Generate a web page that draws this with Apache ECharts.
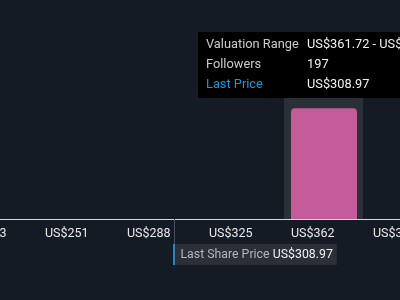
<!DOCTYPE html>
<html>
<head>
<meta charset="utf-8">
<script src="https://cdn.jsdelivr.net/npm/echarts@6/dist/echarts.min.js"></script>
<style>
html,body{margin:0;padding:0;background:#151b25;}
#c{width:400px;height:300px;}
</style>
</head>
<body>
<div id="c"></div>
<script>
// ---- data ----
const binStarts = [361.72];
const binEnds = [398.78];
const followers = [197];
const tickValues = [213.48, 250.54, 287.60, 324.66, 361.72, 398.78];
const lastPrice = 308.97;

const FONT = 'Roboto';
const chart = echarts.init(document.getElementById('c'), null, {renderer: 'canvas'});

const barData = binStarts.map((s, i) => [s, binEnds[i], followers[i]]);

const option = {
  backgroundColor: '#151b25',
  animation: false,
  grid: {left: -40, width: 440, top: 39, height: 180, containLabel: false, outerBoundsMode: 'none'},
  xAxis: {
    type: 'value',
    min: 212.12,
    max: 410.98,
    axisLine: {show: true, lineStyle: {color: '#d5d8dc', width: 1}},
    axisTick: {show: false},
    splitLine: {show: false},
    axisLabel: {
      customValues: tickValues,
      formatter: v => 'US$' + Math.round(v),
      align: 'left',
      margin: 8,
      color: '#e8e9eb',
      fontFamily: FONT,
      fontSize: 12.5,
      hideOverlap: false
    }
  },
  yAxis: {
    type: 'value', min: 0, max: 320, show: false,
    splitLine: {show: false}
  },
  series: [
    {
      type: 'custom',
      data: barData,
      clip: false,
      z: 2,
      renderItem: function (params, api) {
        const p0 = api.coord([api.value(0), 0]);
        const p1 = api.coord([api.value(1), api.value(2)]);
        const band = p1[0] - p0[0];
        const bw = band * 0.805;
        const cs = params.coordSys;
        return {
          type: 'group',
          children: [
            {
              type: 'rect',
              shape: {x: p0[0] - 7, y: cs.y, width: bw + 13, height: p0[1] - cs.y, r: [4, 4, 0, 0]},
              style: {fill: '#2a2f38'}
            },
            {
              type: 'rect',
              shape: {x: p0[0], y: p1[1], width: bw, height: p0[1] - p1[1], r: [4, 4, 0, 0]},
              style: {fill: '#c55c9a'}
            }
          ]
        };
      }
    },
    {
      type: 'custom',
      data: [[lastPrice]],
      clip: false,
      z: 3,
      renderItem: function (params, api) {
        const p = api.coord([api.value(0), 0]);
        const x = Math.round(p[0]) + 0.5;
        const y = Math.round(p[1]);
        return {
          type: 'group',
          children: [
            {
              type: 'line',
              shape: {x1: x, y1: y, x2: x, y2: y + 25},
              style: {stroke: '#4a505a', lineWidth: 1}
            },
            {
              type: 'text',
              x: x + 1,
              y: y + 25,
              style: {
                text: '{a|Last Share Price} {b|US$' + lastPrice.toFixed(2) + '}',
                backgroundColor: '#2a2f38',
                padding: [4, 4, 3, 5],
                rich: {
                  a: {fontFamily: FONT, fontSize: 12.3, fill: '#b3b7bd', lineHeight: 14},
                  b: {fontFamily: FONT, fontSize: 12.3, fill: '#eeeff1', lineHeight: 14}
                }
              }
            },
            {
              type: 'rect',
              shape: {x: x - 1.5, y: y + 25, width: 2, height: 21},
              style: {fill: '#1b8ad6'}
            }
          ]
        };
      }
    }
  ],
  graphic: [
    {type: 'rect', z: 100, shape: {x: 198, y: 32, width: 230, height: 66}, style: {fill: '#000000'}},
    {type: 'text', z: 101, x: 206, y: 44.5, style: {text: 'Valuation Range', fill: '#c9cbce', font: '12.8px Roboto', verticalAlign: 'middle'}},
    {type: 'text', z: 101, x: 307, y: 44.5, style: {text: 'US$' + binStarts[0].toFixed(2) + ' - US$' + binEnds[0].toFixed(2), fill: '#f2f2f2', font: '12.8px Roboto', verticalAlign: 'middle'}},
    {type: 'text', z: 101, x: 206, y: 64.5, style: {text: 'Followers', fill: '#c9cbce', font: '12.8px Roboto', verticalAlign: 'middle'}},
    {type: 'text', z: 101, x: 307, y: 64.5, style: {text: String(followers[0]), fill: '#f2f2f2', font: '12.8px Roboto', verticalAlign: 'middle'}},
    {type: 'text', z: 101, x: 206, y: 84.5, style: {text: 'Last Price', fill: '#1e95dc', font: '12.8px Roboto', verticalAlign: 'middle'}},
    {type: 'text', z: 101, x: 307, y: 84.5, style: {text: 'US$' + lastPrice.toFixed(2), fill: '#f2f2f2', font: '12.8px Roboto', verticalAlign: 'middle'}}
  ]
};
chart.setOption(option);
</script>
</body>
</html>
